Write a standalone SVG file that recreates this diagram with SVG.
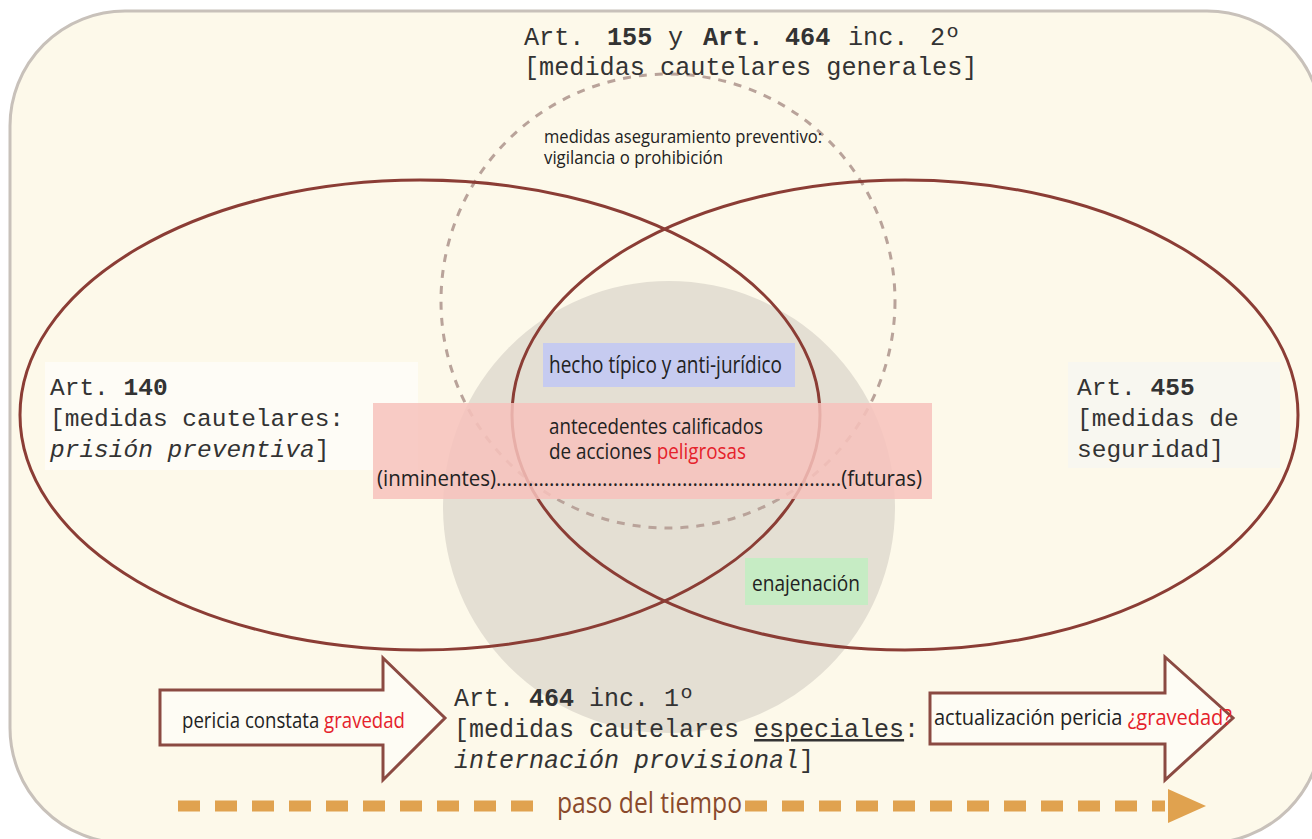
<svg xmlns="http://www.w3.org/2000/svg" width="1312" height="839" viewBox="0 0 1312 839">
<defs>
<style>
.mono{font-family:"Liberation Mono","Courier New",monospace;fill:#333;}
.cond{font-family:"Liberation Sans Narrow","Open Sans","Liberation Sans",sans-serif;fill:#222;}
.red{fill:#e5222b;}
.b{font-weight:bold;}
.i{font-style:italic;}
.ell{fill:none;stroke:#8b3d35;stroke-width:3;}
.blk{fill:#fefcf4;stroke:#8b4a42;stroke-width:3;stroke-linejoin:miter;}
</style>
</defs>
<rect id="background" x="10" y="11" width="1312" height="832" rx="115" ry="115" fill="#fdf9ea" stroke="#c8c1ba" stroke-width="3"/>

<g id="grey-circle"><circle cx="669" cy="507" r="226" fill="#e4dfd3"/></g>
<g id="dashed-circle"><circle cx="668" cy="301" r="227" fill="none" stroke="#b9a39a" stroke-width="3" stroke-dasharray="8 8"/></g>
<g id="ellipse-left"><ellipse class="ell" cx="420" cy="415" rx="400" ry="235"/></g>
<g id="ellipse-right"><ellipse class="ell" cx="905" cy="415" rx="393" ry="235"/></g>

<g id="label-top">
<text class="mono" font-size="25.2" y="45"><tspan x="524">Art.</tspan><tspan x="607" class="b">155</tspan><tspan x="668">y</tspan><tspan x="703" class="b">Art.</tspan><tspan x="785" class="b">464</tspan><tspan x="848">inc.</tspan><tspan x="930">2º</tspan></text>
<text class="mono" font-size="25.2" x="524" y="75">[medidas cautelares generales]</text>
<text class="cond" font-size="19" x="544" y="143" textLength="278" lengthAdjust="spacingAndGlyphs">medidas aseguramiento preventivo:</text>
<text class="cond" font-size="19" x="544" y="164" textLength="179" lengthAdjust="spacingAndGlyphs">vigilancia o prohibición</text>
</g>

<g id="label-left">
<rect x="45" y="362" width="373" height="108" fill="#fefcf6"/>
<text class="mono" font-size="24.5" x="50" y="395">Art. <tspan class="b">140</tspan></text>
<text class="mono" font-size="24.5" x="50" y="426">[medidas cautelares:</text>
<text class="mono" font-size="24.5" x="50" y="457"><tspan class="i">prisión preventiva</tspan>]</text>
</g>

<g id="label-right">
<rect x="1068" y="362" width="212" height="106" fill="#f8f7f0"/>
<text class="mono" font-size="24.5" x="1077" y="395">Art. <tspan class="b">455</tspan></text>
<text class="mono" font-size="24.5" x="1077" y="426">[medidas de</text>
<text class="mono" font-size="24.5" x="1077" y="457">seguridad]</text>
</g>

<g id="pink-box">
<rect x="373" y="403" width="559" height="96" fill="#f7c2bc" fill-opacity="0.85"/>
<text class="cond" font-size="22" x="549" y="434" textLength="214" lengthAdjust="spacingAndGlyphs">antecedentes calificados</text>
<text class="cond" font-size="22" x="549" y="459" textLength="197" lengthAdjust="spacingAndGlyphs">de acciones <tspan class="red">peligrosas</tspan></text>
<text class="cond" font-size="22" x="377" y="486" textLength="545" lengthAdjust="spacingAndGlyphs">(inminentes)………………………..………………………………(futuras)</text>
</g>

<g id="blue-box">
<rect x="543" y="343" width="252" height="44" fill="#c6cbf0"/>
<text class="cond" font-size="23" x="549" y="373" textLength="233" lengthAdjust="spacingAndGlyphs">hecho típico y anti-jurídico</text>
</g>

<g id="green-box">
<rect x="745" y="558" width="123" height="47" fill="#c6ecc4"/>
<text class="cond" font-size="22" x="752" y="591" textLength="108" lengthAdjust="spacingAndGlyphs">enajenación</text>
</g>

<g id="label-bottom">
<text class="mono" font-size="25" x="454" y="706">Art. <tspan class="b">464</tspan> inc. 1º</text>
<text class="mono" font-size="25" x="454" y="737">[medidas cautelares <tspan text-decoration="underline">especiales</tspan>:</text>
<text class="mono" font-size="25" x="454" y="768"><tspan class="i">internación provisional</tspan>]</text>
</g>

<g id="connectors">
<g id="arrow-left">
<polygon class="blk" points="160,690 383,690 383,658 445,718 383,780 383,745 160,745"/>
<text class="cond" font-size="21" x="182" y="728" textLength="223" lengthAdjust="spacingAndGlyphs">pericia constata <tspan class="red">gravedad</tspan></text>
</g>
<g id="arrow-right">
<polygon class="blk" points="930,693 1165,693 1165,657 1233,718 1165,780 1165,744 930,744"/>
<text class="cond" font-size="22" x="934" y="725" textLength="298" lengthAdjust="spacingAndGlyphs">actualización pericia <tspan class="red">¿gravedad?</tspan></text>
</g>
<g id="time-arrow">
<line x1="178" y1="806" x2="540" y2="806" stroke="#e0a24f" stroke-width="11" stroke-dasharray="22 15"/>
<line x1="745" y1="806" x2="1165" y2="806" stroke="#e0a24f" stroke-width="11" stroke-dasharray="22 15"/>
<polygon points="1168,789 1206,806 1168,823" fill="#e0a24f"/>
<text class="cond" font-size="30" x="557" y="813" textLength="185" lengthAdjust="spacingAndGlyphs" style="fill:#8a4a2c">paso del tiempo</text>
</g>
</g>
</svg>
